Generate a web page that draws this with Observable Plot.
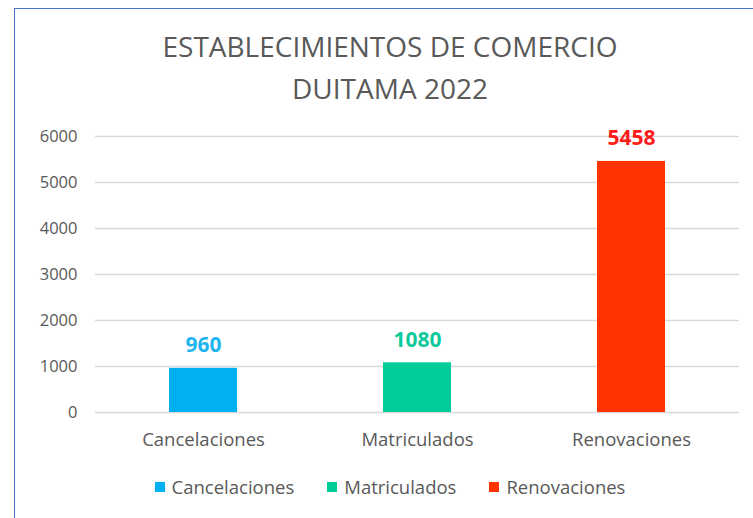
<!DOCTYPE html>
<html>
<head>
<meta charset="utf-8">
<script src="https://cdn.jsdelivr.net/npm/d3@7"></script>
<script src="https://cdn.jsdelivr.net/npm/@observablehq/plot@0.6"></script>
<style>
  html, body { margin: 0; padding: 0; background: #ffffff; }
  body { width: 753px; height: 518px; position: relative; overflow: hidden; font-family: "Open Sans", sans-serif; }
  #frame { position: absolute; left: 14px; top: 8px; width: 760px; height: 520px; border-left: 1.5px solid #4a74c4; border-top: 1.5px solid #4a74c4; background: #fff; }
  #title { position: absolute; left: 0; width: 780px; top: 25px; text-align: center; color: #595959; font-size: 28px; line-height: 42px; }
  #chart { position: absolute; left: 0; top: 115px; }
  #legend { position: absolute; left: 0; top: 474px; width: 780px; display: flex; justify-content: center; gap: 33px; color: #595959; font-size: 18.5px; }
  #legend span.item { display: flex; align-items: center; }
  #legend span.sw { display: inline-block; width: 10px; height: 10px; margin-right: 7px; }
</style>
</head>
<body>
<div id="frame"></div>
<div id="title">ESTABLECIMIENTOS DE COMERCIO<br>DUITAMA 2022</div>
<div id="chart"></div>
<div id="legend"></div>
<script>
const categories = ["Cancelaciones", "Matriculados", "Renovaciones"];
const values = [960, 1080, 5458];
const barColors = ["#00b0f0", "#00cc99", "#ff3300"];
const labelColors = ["#1fb5ee", "#10c99a", "#ff1a1a"];
const yTicks = [0, 1000, 2000, 3000, 4000, 5000, 6000];

const data = categories.map((c, i) => ({category: c, value: values[i], color: barColors[i], labelColor: labelColors[i]}));

const chart = Plot.plot({
  width: 753,
  height: 345,
  marginLeft: 95,
  marginRight: 14,
  marginTop: 21,
  marginBottom: 48,
  style: {fontFamily: "Open Sans, sans-serif", background: "transparent", color: "#595959"},
  x: {domain: categories, paddingInner: 0.682, paddingOuter: 0.345, label: null},
  y: {domain: [0, 6000], label: null},
  marks: [
    Plot.ruleY(yTicks, {stroke: "#d9d9d9", strokeWidth: 1.3}),
    Plot.barY(data, {x: "category", y: "value", fill: "color"}),
    Plot.text(data, {x: "category", y: "value", text: d => String(d.value), fill: "labelColor", dy: -23, fontSize: 21, fontWeight: "bold"}),
    Plot.axisY({ticks: yTicks, tickSize: 0, tickPadding: 18, fontSize: 16.5, fill: "#595959", tickFormat: d => String(d)}),
    Plot.axisX({tickSize: 0, tickPadding: 20, fontSize: 18.5, fill: "#595959"})
  ]
});
document.getElementById("chart").appendChild(chart);

const legend = document.getElementById("legend");
categories.forEach((c, i) => {
  const item = document.createElement("span");
  item.className = "item";
  const sw = document.createElement("span");
  sw.className = "sw";
  sw.style.background = barColors[i];
  item.appendChild(sw);
  item.appendChild(document.createTextNode(c));
  legend.appendChild(item);
});
</script>
</body>
</html>
